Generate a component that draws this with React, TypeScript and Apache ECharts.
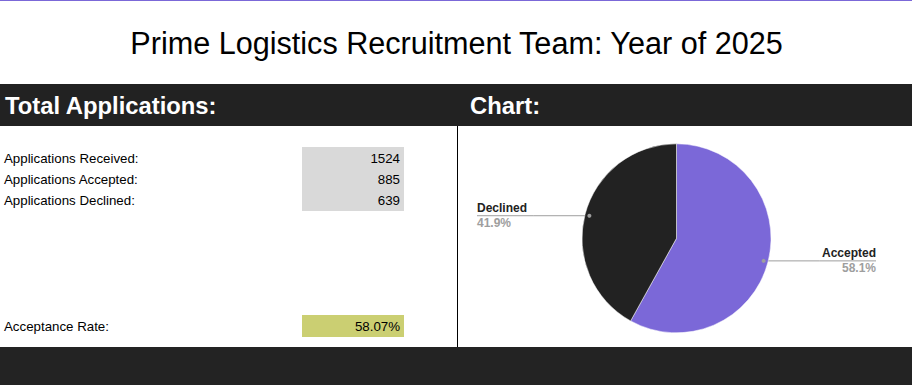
import React, { useEffect, useRef } from 'react';
import * as echarts from 'echarts';

const TITLE = 'Prime Logistics Recruitment Team: Year of 2025';
const SECTION_HEADERS = ['Total Applications:', 'Chart:'];
const rowLabels = ['Applications Received:', 'Applications Accepted:', 'Applications Declined:'];
const rowValues = [1524, 885, 639];
const rateLabel = 'Acceptance Rate:';
const pieNames = ['Accepted', 'Declined'];
const pieValues = [885, 639];
const pieColors = ['#7b68d8', '#222222'];

const FONT = '"Liberation Sans", Arial, sans-serif';
const W = 912;
const H = 385;
const CX = 676.5;
const CY = 238.3;
const R = 94.5;
const DOT_R = 90;
const LABEL_X = [876, 477];

function midPoint(i: number, r: number): [number, number] {
  const total = pieValues.reduce((a, b) => a + b, 0);
  let cum = 0;
  for (let j = 0; j < i; j++) cum += pieValues[j];
  const a = ((90 - (360 * (cum + pieValues[i] / 2)) / total) * Math.PI) / 180;
  return [CX + r * Math.cos(a), CY - r * Math.sin(a)];
}

export default function App() {
  const ref = useRef<HTMLDivElement>(null);
  useEffect(() => {
    if (!ref.current) return;
    const chart = echarts.init(ref.current, undefined, { renderer: 'svg', width: W, height: H });
    const rate = ((rowValues[1] / rowValues[0]) * 100).toFixed(2) + '%';
    const rowY = [158, 179, 200];
    const graphic: any[] = [
      { type: 'rect', shape: { x: 0, y: 0, width: W, height: 1 }, style: { fill: '#7b68d8' }, silent: true },
      {
        type: 'text',
        style: { text: TITLE, x: 456.5, y: 43, align: 'center', verticalAlign: 'middle', fontSize: 30.6, fontFamily: FONT, fill: '#000' },
      },
      { type: 'rect', shape: { x: 0, y: 84, width: W, height: 42 }, style: { fill: '#222222' } },
      {
        type: 'text',
        style: { text: SECTION_HEADERS[0], x: 5, y: 105.5, align: 'left', verticalAlign: 'middle', fontSize: 23.8, fontWeight: 'bold', fontFamily: FONT, fill: '#fff' },
      },
      {
        type: 'text',
        style: { text: SECTION_HEADERS[1], x: 470, y: 105.5, align: 'left', verticalAlign: 'middle', fontSize: 23.8, fontWeight: 'bold', fontFamily: FONT, fill: '#fff' },
      },
      { type: 'line', shape: { x1: 457.5, y1: 126, x2: 457.5, y2: 347 }, style: { stroke: '#000', lineWidth: 1 } },
      { type: 'rect', shape: { x: 302, y: 147, width: 102, height: 64 }, style: { fill: '#d9d9d9' } },
      { type: 'rect', shape: { x: 302, y: 315, width: 102, height: 22 }, style: { fill: '#cbcf72' } },
      { type: 'rect', shape: { x: 0, y: 347, width: W, height: H - 347 }, style: { fill: '#232323' } },
    ];
    rowLabels.forEach((lbl, i) => {
      graphic.push({
        type: 'text',
        style: { text: lbl, x: 4, y: rowY[i], align: 'left', verticalAlign: 'middle', fontSize: 13.3, fontFamily: FONT, fill: '#000' },
      });
      graphic.push({
        type: 'text',
        style: { text: String(rowValues[i]), x: 400, y: rowY[i], align: 'right', verticalAlign: 'middle', fontSize: 13.3, fontFamily: FONT, fill: '#000' },
      });
    });
    graphic.push({
      type: 'text',
      style: { text: rateLabel, x: 4, y: 326, align: 'left', verticalAlign: 'middle', fontSize: 13.3, fontFamily: FONT, fill: '#000' },
    });
    graphic.push({
      type: 'text',
      style: { text: rate, x: 400, y: 326, align: 'right', verticalAlign: 'middle', fontSize: 13.3, fontFamily: FONT, fill: '#000' },
    });
    pieValues.forEach((_, i) => {
      const [dx, dy] = midPoint(i, DOT_R);
      graphic.push({ type: 'circle', z: 100, shape: { cx: dx, cy: dy, r: 2 }, style: { fill: '#9e9e9e' } });
    });

    const richBase = { fontSize: 12, fontWeight: 'bold', fontFamily: FONT, lineHeight: 15 };
    chart.setOption({
      animation: false,
      backgroundColor: '#ffffff',
      graphic,
      series: [
        {
          type: 'pie',
          silent: true,
          center: [CX, CY],
          radius: R,
          startAngle: 90,
          clockwise: true,
          percentPrecision: 1,
          avoidLabelOverlap: false,
          itemStyle: { borderColor: '#ffffff', borderWidth: 0.5 },
          data: pieNames.map((n, i) => ({ name: n, value: pieValues[i], itemStyle: { color: pieColors[i] } })),
          label: {
            show: true,
            formatter: (p: any) =>
              p.dataIndex === 0 ? `{nr|${p.name}}\n{pr|${p.percent}%}` : `{nl|${p.name}}\n{pl|${p.percent}%}`,
            rich: {
              nl: { ...richBase, color: '#222222', align: 'left' },
              pl: { ...richBase, color: '#9e9e9e', align: 'left' },
              nr: { ...richBase, color: '#222222', align: 'right' },
              pr: { ...richBase, color: '#9e9e9e', align: 'right' },
            },
          },
          labelLine: { show: true, length: 10, length2: 10, lineStyle: { color: '#9e9e9e', width: 1 } },
          labelLayout: (params: any) => {
            const i = params.dataIndex;
            const [dx, dy] = midPoint(i, DOT_R);
            const lx = LABEL_X[i];
            return {
              x: lx,
              y: dy,
              align: i === 0 ? 'right' : 'left',
              verticalAlign: 'middle',
              labelLinePoints: [
                [dx, dy],
                [(dx + lx) / 2, dy],
                [lx, dy],
              ],
            };
          },
        },
      ],
    });
    return () => chart.dispose();
  }, []);
  return <div ref={ref} style={{ position: 'fixed', left: 0, top: 0, width: W, height: H, background: '#fff' }} />;
}
